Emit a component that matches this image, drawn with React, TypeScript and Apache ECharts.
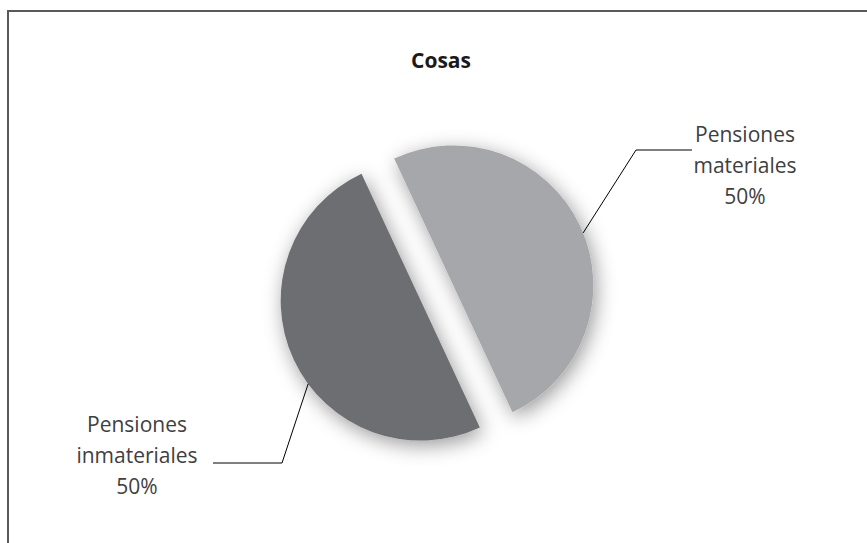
import React, { useEffect, useRef } from "react";
import * as echarts from "echarts";

const titleText = "Cosas";
const categories = ["Pensiones\nmateriales", "Pensiones\ninmateriales"];
const values = [50, 50];
const colors = ["#a6a7ab", "#6d6e72"];

const CX = 437;
const CY = 293;
const R = 140;
const OFF = 18;
const START = 115;

function sliceMid(sliceIndex: number) {
  const total = values.reduce((a, b) => a + b, 0);
  let acc = 0;
  for (let i = 0; i < sliceIndex; i++) acc += values[i];
  return START - ((acc + values[sliceIndex] / 2) / total) * 360;
}

function slicePoint(sliceIndex: number, angleDeg: number) {
  const mr = (sliceMid(sliceIndex) * Math.PI) / 180;
  const cx = CX + OFF * Math.cos(mr);
  const cy = CY - OFF * Math.sin(mr);
  const a = (angleDeg * Math.PI) / 180;
  return [cx + R * Math.cos(a), cy - R * Math.sin(a)];
}

function percentOf(i: number) {
  const total = values.reduce((a, b) => a + b, 0);
  return Math.round((values[i] / total) * 100);
}

export default function App() {
  const ref = useRef<HTMLDivElement>(null);
  useEffect(() => {
    if (!ref.current) return;
    const chart = echarts.init(ref.current, undefined, { renderer: "svg" });
    const labelStyle = {
      fontFamily: "Open Sans",
      fontSize: 21,
      lineHeight: 31,
      fill: "#404040",
      align: "center",
      verticalAlign: "middle",
    };
    const labelPos = [
      { x: 745, y: 165, elbow: [636, 150], end: [692, 150], attach: 22 },
      { x: 137, y: 455, elbow: [282, 463], end: [213, 463], attach: 216.5 },
    ];
    const labelGraphics: any[] = [];
    categories.forEach((name, i) => {
      const lp = labelPos[i];
      labelGraphics.push({
        type: "text",
        silent: true,
        style: {
          ...labelStyle,
          text: `${name}\n${percentOf(i)}%`,
          x: lp.x,
          y: lp.y,
        },
        z: 10,
      });
      labelGraphics.push({
        type: "polyline",
        silent: true,
        shape: { points: [slicePoint(i, lp.attach), lp.elbow, lp.end] },
        style: { stroke: "#000000", lineWidth: 1, fill: "none" },
        z: 10,
      });
    });
    chart.setOption({
      animation: false,
      backgroundColor: "#ffffff",
      title: {
        text: titleText,
        left: 436,
        textAlign: "center",
        top: 44,
        textStyle: {
          fontFamily: "Open Sans",
          fontSize: 21,
          fontWeight: "bold",
          color: "#1a1a1a",
        },
      },
      graphic: [
        {
          type: "rect",
          shape: { x: 8, y: 11, width: 900, height: 600 },
          style: { fill: "none", stroke: "#595959", lineWidth: 2 },
          silent: true,
        },
        ...labelGraphics,
      ],
      series: [
        {
          type: "pie",
          center: [CX, CY],
          radius: R,
          startAngle: START,
          clockwise: true,
          selectedMode: "multiple",
          selectedOffset: OFF,
          itemStyle: {
            shadowBlur: 20,
            shadowColor: "rgba(0,0,0,0.4)",
            shadowOffsetX: 3,
            shadowOffsetY: 5,
          },
          label: { show: false },
          labelLine: { show: false },
          emphasis: { disabled: true },
          data: categories.map((name, i) => ({
            name,
            value: values[i],
            selected: true,
            itemStyle: { color: colors[i] },
            select: { itemStyle: { color: colors[i] } },
          })),
        },
      ],
    });
    return () => chart.dispose();
  }, []);
  return (
    <div
      ref={ref}
      style={{ position: "fixed", left: 0, top: 0, width: 867, height: 543 }}
    />
  );
}
